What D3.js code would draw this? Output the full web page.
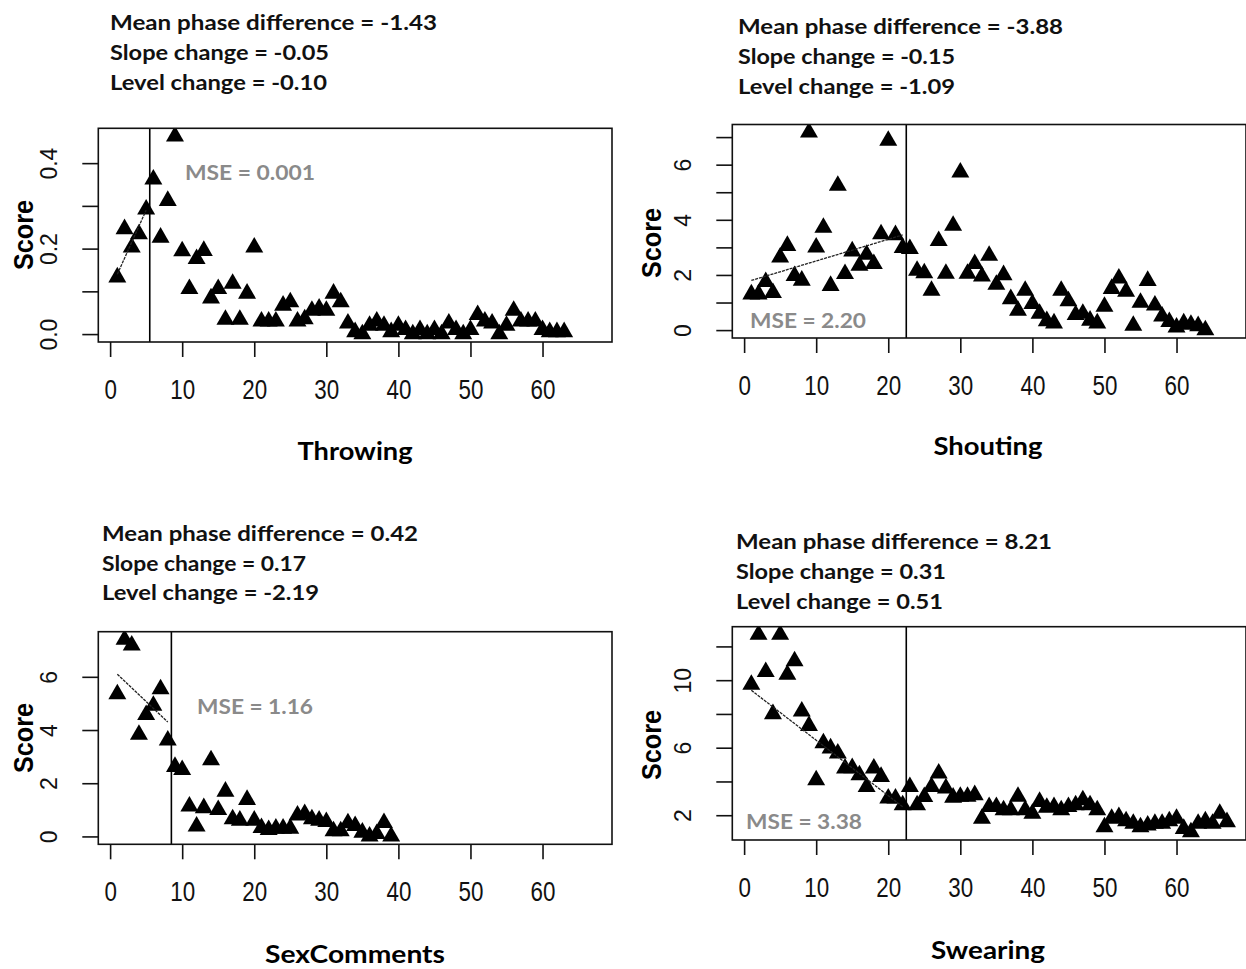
<!DOCTYPE html>
<html><head><meta charset="utf-8">
<script src="https://cdn.jsdelivr.net/npm/d3@7"></script>
<style>body{margin:0;background:#fff}</style>
</head><body>
<svg id="c" width="1246" height="969"></svg>
<script>
// ---------------- data ----------------
const timeTicks = [0, 10, 20, 30, 40, 50, 60];
const names = ["Throwing", "Shouting", "SexComments", "Swearing"];
const throwing = [0.133,0.246,0.203,0.234,0.292,0.362,0.226,0.312,0.463,0.194,
 0.106,0.176,0.195,0.084,0.106,0.034,0.118,0.034,0.095,0.203,
 0.03,0.03,0.03,0.067,0.075,0.03,0.035,0.055,0.06,0.055,
 0.095,0.075,0.025,0.005,0.0,0.02,0.03,0.02,0.005,0.02,
 0.01,0.0,0.01,0.0,0.01,0.0,0.025,0.01,0.0,0.01,
 0.045,0.03,0.025,0.0,0.02,0.055,0.03,0.03,0.03,0.01,
 0.005,0.005,0.005];
const shouting = [1.3,1.3,1.75,1.35,2.64,3.06,1.97,1.8,7.17,3.0,
 3.72,1.61,5.24,2.04,2.86,2.34,2.74,2.4,3.48,6.87,
 3.45,2.98,2.95,2.16,2.07,1.43,3.24,2.05,3.79,5.72,
 2.05,2.4,1.95,2.7,1.65,2.0,1.13,0.71,1.43,0.95,
 0.6,0.33,0.25,1.43,1.05,0.55,0.6,0.35,0.25,0.85,
 1.5,1.88,1.4,0.16,1.0,1.79,0.9,0.5,0.3,0.1,
 0.25,0.2,0.15,0.0];
const sexComments = [5.35,7.4,7.18,3.83,4.57,4.92,5.54,3.61,2.62,2.5,
 1.13,0.38,1.07,2.87,1.0,1.69,0.65,0.6,1.38,0.6,
 0.32,0.25,0.3,0.3,0.3,0.79,0.85,0.65,0.6,0.55,
 0.2,0.2,0.5,0.4,0.15,0.0,0.1,0.51,0.0];
const swearing = [9.74,12.7,10.49,8.0,12.7,10.33,11.13,8.15,7.3,4.08,
 6.27,5.97,5.67,4.78,4.8,4.38,3.68,4.78,4.28,3.0,
 3.0,2.6,3.68,2.6,3.09,3.68,4.48,3.6,3.05,3.1,
 3.1,3.2,1.8,2.5,2.5,2.3,2.3,3.1,2.3,2.1,
 2.8,2.45,2.5,2.3,2.5,2.6,2.9,2.6,2.3,1.3,
 1.8,1.9,1.65,1.5,1.3,1.4,1.5,1.5,1.65,1.8,
 1.2,1.0,1.5,1.65,1.5,2.1,1.6];
const phaseChange = [5.5, 22.5, 8.5, 22.5];
const meanPhaseDiff = ["-1.43", "-3.88", "0.42", "8.21"];
const slopeChange = ["-0.05", "-0.15", "0.17", "0.31"];
const levelChange = ["-0.10", "-1.09", "-2.19", "0.51"];
const mseValues = ["0.001", "2.20", "1.16", "3.38"];
const yTicks = [[0,0.1,0.2,0.3,0.4],[0,1,2,3,4,5,6,7],[0,2,4,6],[2,4,6,8,10,12]];
const yTickLabels = [[0,0.2,0.4],[0,2,4,6],[0,2,4,6],[2,6,10]];
const yTickFormats = [".1f", "d", "d", "d"];
// phase-A trend line end points (time, score)
const trendA = [[[1,0.14],[5,0.29]], [[1,1.8],[22,3.45]], [[1,6.1],[8,4.3]], [[1,9.4],[22,2.5]]];

// ---------------- layout ----------------
const layout = [
  {x0:98.3, x1:612, y0:128.3, y1:342, annX:110, annY:[30,60,90], annW:[327,219,217], mse:[185,180,130], title:[355,460,115], score:[33,235]},
  {x0:732.3, x1:1246, y0:124.5, y1:338, annX:738, annY:[34,64,93.5], annW:[325,217,217], mse:[750,328,116], title:[988,455,109], score:[661,243]},
  {x0:98.3, x1:612, y0:631.7, y1:844.3, annX:102, annY:[541,571,600], annW:[316,204,217], mse:[197,714,116], title:[355,963,180], score:[33,738]},
  {x0:732.3, x1:1246, y0:626.7, y1:840, annX:736, annY:[549,579,609], annW:[316,210,207], mse:[746,829,116], title:[988,959,114], score:[661,745]}
];

const svg = d3.select("#c");
const seriesList = [throwing, shouting, sexComments, swearing];
const maxT = d3.max(seriesList, s => s.length);
const xPad = (maxT - 1) * 0.04;
const annFont = "Lato, 'Open Sans', sans-serif";
const axisFont = "'Liberation Sans', Arial, sans-serif";

seriesList.forEach((series, i) => {
  const L = layout[i];
  const data = series.map((v, j) => ({t: j + 1, v}));
  const x = d3.scaleLinear().domain([1 - xPad, maxT + xPad]).range([L.x0, L.x1]);
  const [mn, mx] = d3.extent(series);
  const yPad = (mx - mn) * 0.04;
  const y = d3.scaleLinear().domain([mn - yPad, mx + yPad]).range([L.y1, L.y0]);

  const g = svg.append("g");
  const clipId = "clip" + i;
  g.append("clipPath").attr("id", clipId).append("rect")
    .attr("x", L.x0).attr("y", L.y0).attr("width", L.x1 - L.x0).attr("height", L.y1 - L.y0);

  // points
  g.append("g").attr("clip-path", `url(#${clipId})`)
    .selectAll("path.pt").data(data).join("path")
    .attr("class", "pt")
    .attr("transform", d => `translate(${x(d.t)},${y(d.v)})`)
    .attr("d", d3.symbol(d3.symbolTriangle, 140))
    .attr("fill", "#000");

  // phase A trend
  g.append("path").datum(trendA[i])
    .attr("d", d3.line().x(d => x(d[0])).y(d => y(d[1])))
    .attr("fill", "none").attr("stroke", "#222").attr("stroke-width", 1.3)
    .attr("stroke-dasharray", "3,1");

  // phase change line
  g.append("line")
    .attr("x1", x(phaseChange[i])).attr("x2", x(phaseChange[i]))
    .attr("y1", L.y0).attr("y2", L.y1)
    .attr("stroke", "#000").attr("stroke-width", 1.6);

  // box
  g.append("rect").attr("x", L.x0).attr("y", L.y0)
    .attr("width", L.x1 - L.x0).attr("height", L.y1 - L.y0)
    .attr("fill", "none").attr("stroke", "#111").attr("stroke-width", 1.6);

  // x axis
  const gx = g.append("g").attr("transform", `translate(0,${L.y1})`)
    .call(d3.axisBottom(x).tickValues(timeTicks).tickSize(15).tickPadding(22).tickFormat(d3.format("d")));
  gx.select(".domain").remove();
  gx.attr("font-family", axisFont).attr("font-size", 28);
  gx.selectAll("line").attr("stroke", "#111").attr("stroke-width", 1.6);
  gx.selectAll("text").attr("fill", "#111").attr("transform", "scale(0.8,1)");

  // y axis
  const fmt = d3.format(yTickFormats[i]);
  const gy = g.append("g").attr("transform", `translate(${L.x0},0)`)
    .call(d3.axisLeft(y).tickValues(yTicks[i]).tickSize(16)
      .tickFormat(d => yTickLabels[i].includes(d) ? fmt(d) : ""));
  gy.select(".domain").remove();
  gy.attr("font-family", axisFont).attr("font-size", 23);
  gy.selectAll("line").attr("stroke", "#111").attr("stroke-width", 1.6);
  gy.selectAll("text").attr("x", 0).attr("dy", 0).attr("fill", "#111")
    .attr("text-anchor", "middle").attr("transform", "translate(-41,0) rotate(-90)");

  // Score label
  g.append("text").text("Score")
    .attr("transform", `translate(${L.score[0]},${L.score[1]}) rotate(-90)`)
    .attr("text-anchor", "middle").attr("font-family", axisFont)
    .attr("font-weight", "bold").attr("font-size", 27)
    .attr("textLength", 70).attr("lengthAdjust", "spacingAndGlyphs");

  // x title
  g.append("text").text(names[i])
    .attr("x", L.title[0]).attr("y", L.title[1]).attr("text-anchor", "middle")
    .attr("font-family", annFont).attr("font-weight", "bold").attr("font-size", 25)
    .attr("textLength", L.title[2]).attr("lengthAdjust", "spacingAndGlyphs");

  // annotations
  const lines = [
    `Mean phase difference = ${meanPhaseDiff[i]}`,
    `Slope change = ${slopeChange[i]}`,
    `Level change = ${levelChange[i]}`
  ];
  lines.forEach((s, k) => {
    g.append("text").text(s)
      .attr("x", L.annX).attr("y", L.annY[k])
      .attr("font-family", annFont).attr("font-weight", "bold").attr("font-size", 21)
      .attr("fill", "#111")
      .attr("textLength", L.annW[k]).attr("lengthAdjust", "spacingAndGlyphs");
  });

  // MSE
  g.append("text").text(`MSE = ${mseValues[i]}`)
    .attr("x", L.mse[0]).attr("y", L.mse[1])
    .attr("font-family", annFont).attr("font-weight", "bold").attr("font-size", 21)
    .attr("fill", "#8a8a8a")
    .attr("textLength", L.mse[2]).attr("lengthAdjust", "spacingAndGlyphs");
});
</script>
</body></html>
